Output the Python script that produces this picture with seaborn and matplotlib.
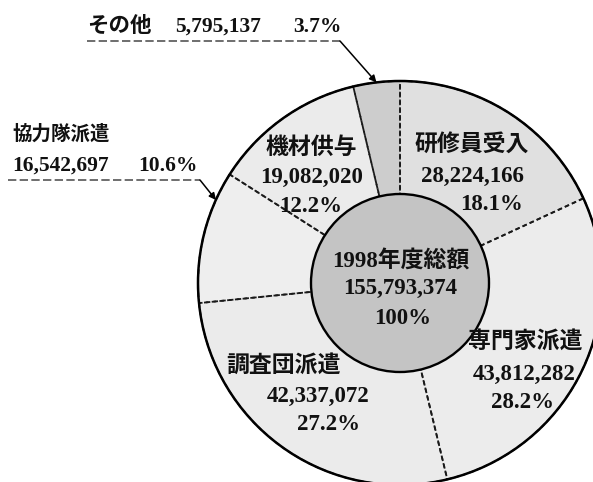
import matplotlib
matplotlib.use("Agg")
import matplotlib.pyplot as plt
import seaborn as sns
import numpy as np
from matplotlib.patches import Circle

# ---- data ----
categories = ["研修員受入", "専門家派遣", "調査団派遣", "協力隊派遣", "機材供与", "その他"]
amounts = [28224166, 43812282, 42337072, 16542697, 19082020, 5795137]
percents = [18.1, 28.2, 27.2, 10.6, 12.2, 3.7]
total_label = "1998年度総額"
total_amount = 155793374
total_percent = 100

# ---- style ----
sns.set_theme(style="white")
plt.rcParams["font.family"] = ["Liberation Serif", "Noto Sans CJK JP", "DejaVu Sans"]

W, H = 593, 482
fig = plt.figure(figsize=(W / 100, H / 100), dpi=100)
ax = fig.add_axes([0, 0, 1, 1])

CX, CY, R = 400, H - 283, 202
R_IN = 89
faces = ["#e0e0e0", "#ececec", "#ebebeb", "#eeeeee", "#ebebeb", "#cdcdcd"]

wedges, _ = ax.pie(amounts, startangle=90, counterclock=False, center=(CX, CY),
                   radius=R, colors=faces, wedgeprops=dict(edgecolor="none"))
ax.pie(amounts, startangle=90, counterclock=False, center=(CX, CY), radius=R,
       colors=[(0, 0, 0, 0)] * len(amounts),
       wedgeprops=dict(edgecolor="#1a1a1a", linewidth=1.3, linestyle=(0, (2.5, 1.8))))
ax.add_patch(Circle((CX, CY), R, fill=False, ec="black", lw=1.8, zorder=3))
ax.add_patch(Circle((CX, CY), R_IN, fc="#c4c4c4", ec="black", lw=1.7, zorder=4))

FS = 16.5
TXT = dict(fontsize=FS, fontweight="bold", color="#111111", va="center", zorder=6)


def put(x, y_img, s, ha="center", **kw):
    d = dict(TXT)
    d.update(kw)
    ax.text(x, H - y_img, s, ha=ha, **d)


# labels inside the ring (pixel positions, image coords)
inside_pos = {
    "研修員受入": [(472, 145), (472, 176), (491, 204)],
    "専門家派遣": [(525, 342), (524, 374), (522, 403)],
    "調査団派遣": [(283, 366), (318, 396), (329, 425)],
    "機材供与": [(311, 148), (312, 177), (311, 207)],
}
for cat, amt, pct in zip(categories, amounts, percents):
    if cat in inside_pos:
        p = inside_pos[cat]
        put(p[0][0], p[0][1], cat)
        put(p[1][0], p[1][1], f"{amt:,}")
        put(p[2][0], p[2][1], f"{pct}%")

# centre
put(401, 262, total_label)
put(400, 288, f"{total_amount:,}")
put(403, 318, f"{total_percent}%")

# outside labels
i_o = categories.index("その他")
put(87, 27, categories[i_o], ha="left", fontsize=15.5)
put(175, 27, f"{amounts[i_o]:,}", ha="left", fontsize=15.5)
put(293, 27, f"{percents[i_o]}%", ha="left", fontsize=15.5)
ax.plot([87, 340], [H - 41, H - 41], color="#555555", lw=1.2, ls=(0, (5, 2)), zorder=5)
w = wedges[i_o]
mid = np.deg2rad((w.theta1 + w.theta2) / 2)
tip = (CX + R * np.cos(mid), CY + R * np.sin(mid))
ax.annotate("", xy=tip, xytext=(340, H - 41),
            arrowprops=dict(arrowstyle="-|>", color="black", lw=1.1,
                            mutation_scale=10, shrinkA=0, shrinkB=0), zorder=6)

i_k = categories.index("協力隊派遣")
put(12, 134, categories[i_k], ha="left", fontsize=14)
put(12, 166, f"{amounts[i_k]:,}", ha="left", fontsize=15.5)
put(138, 166, f"{percents[i_k]}%", ha="left", fontsize=15.5)
ax.plot([8, 200], [H - 180, H - 180], color="#555555", lw=1.2, ls=(0, (5, 2)), zorder=5)
ax.annotate("", xy=(216, H - 200), xytext=(200, H - 180),
            arrowprops=dict(arrowstyle="-|>", color="black", lw=1.1,
                            mutation_scale=10, shrinkA=0, shrinkB=0), zorder=6)

ax.set_xlim(0, W)
ax.set_ylim(0, H)
ax.set_aspect("equal")
ax.set_axis_off()
fig.savefig("out.png", dpi=100, facecolor="white")
